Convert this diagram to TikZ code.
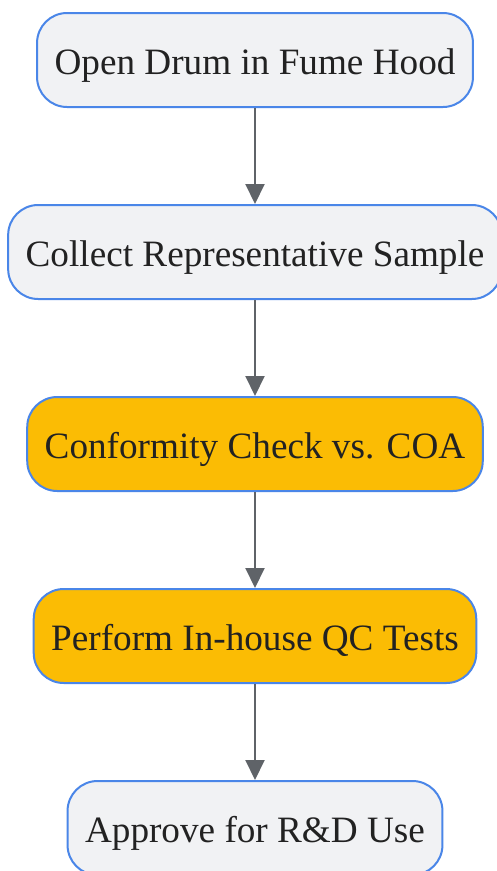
\documentclass[tikz,border=0pt]{standalone}
\usepackage{fontspec}
\setmainfont{Liberation Serif}
\usepackage{tikz}
\usepackage{xcolor}
\usetikzlibrary{arrows.meta}
\usetikzlibrary{positioning}

\begin{document}
\begin{tikzpicture}[x=1pt, y=1pt, node distance=96pt]
				\definecolor{WHITE}{RGB}{255, 255, 255}
				\definecolor{ALMOST_WHITE}{RGB}{241, 242, 244}
				\definecolor{BLUE}{RGB}{74, 134, 232}
				\definecolor{DARK_GRAY}{RGB}{95, 99, 104}
				\definecolor{ALMOST_BLACK}{RGB}{34, 34, 34}
				\definecolor{AMBER}{RGB}{251, 188, 4}
				\tikzset{
					stepbox/.style={draw=BLUE, line width=2pt, fill=ALMOST_WHITE, rounded corners=30pt,
						minimum height=94pt, inner xsep=17.5pt, text=ALMOST_BLACK,
						text height=29pt, text depth=0pt,
						font=\fontsize{37.2}{44}\selectfont},
					checkbox/.style={stepbox, fill=AMBER},
					flow/.style={draw=DARK_GRAY, line width=2pt, -{Triangle[length=20pt, width=19pt]}}
				}
				\useasboundingbox[fill=WHITE] (0,0) rectangle (496,-871);

				\node[stepbox] (open) at (255,-60) {Open Drum in Fume Hood};
				\node[stepbox, below=of open] (sample) {Collect Representative Sample};
				\node[checkbox, below=of sample] (conform) {Conformity Check vs. COA};
				\node[checkbox, below=of conform] (qc) {Perform In-house QC Tests};
				\node[stepbox, below=of qc] (approve) {Approve for R\&D Use};

				\draw[flow] (open) -- (sample);
				\draw[flow] (sample) -- (conform);
				\draw[flow] (conform) -- (qc);
				\draw[flow] (qc) -- (approve);
			\end{tikzpicture}
\end{document}
